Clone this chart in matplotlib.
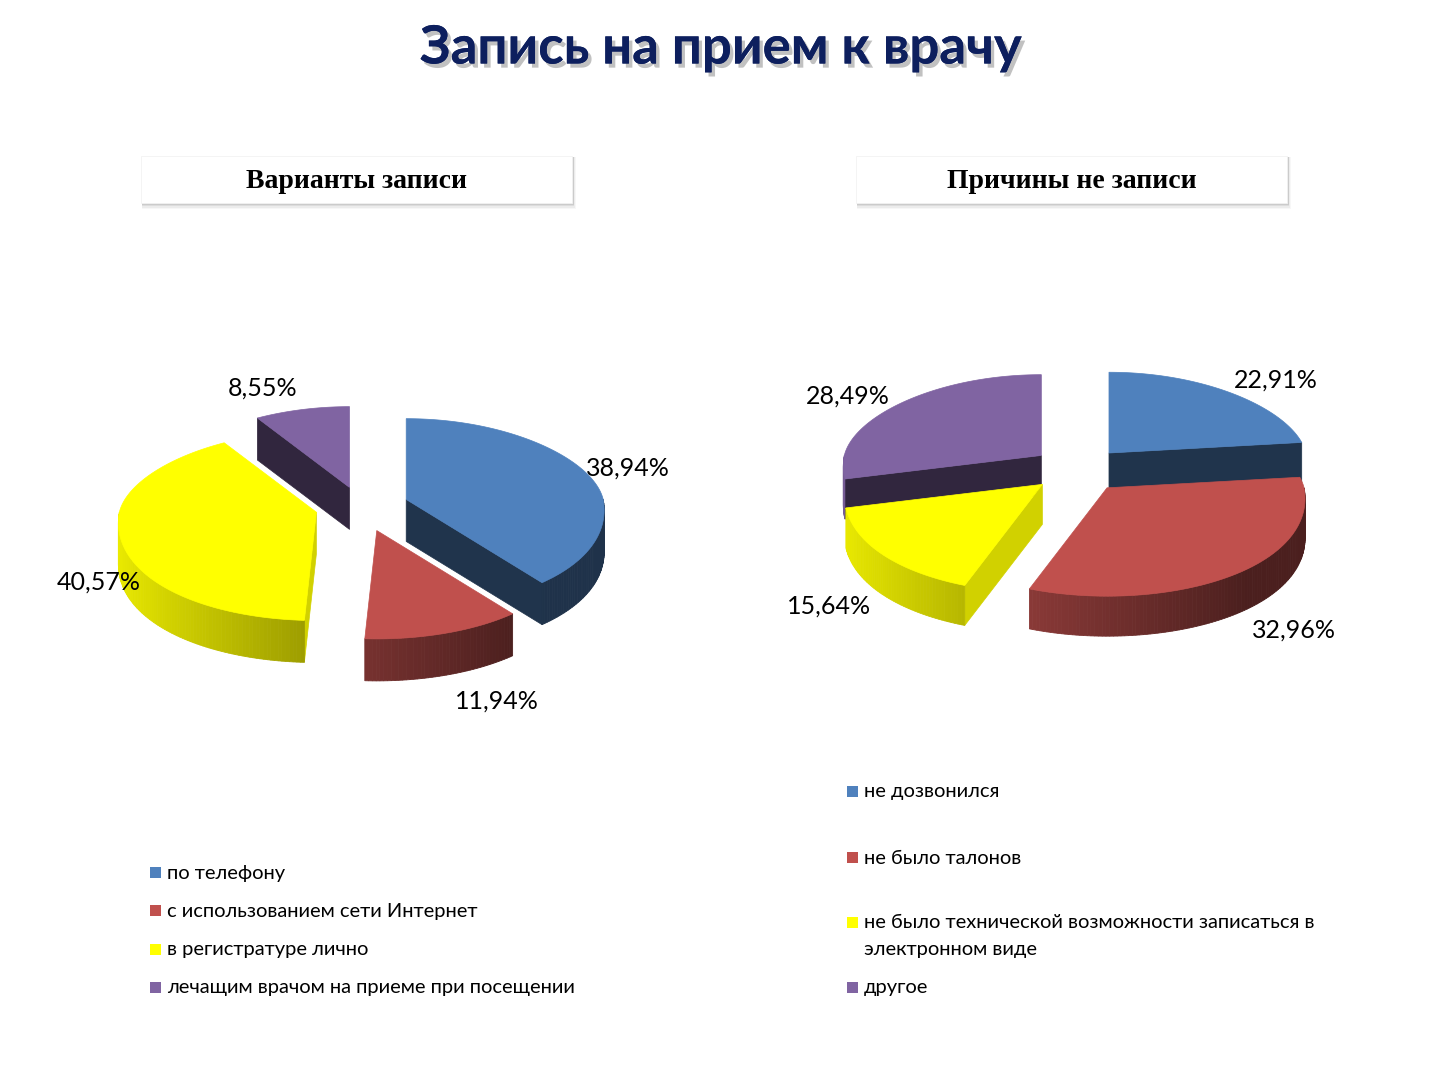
import numpy as np
import matplotlib
matplotlib.use("Agg")
import matplotlib.pyplot as plt
import matplotlib.colors as mcolors
import matplotlib.patheffects as pe
from matplotlib.patches import Polygon, Rectangle

# данные
main_title = "Запись на прием к врачу"

left_title = "Варианты записи"
left_names = ["по телефону", "с использованием сети Интернет",
              "в регистратуре лично", "лечащим врачом на приеме при посещении"]
left_values = [38.94, 11.94, 40.57, 8.55]

right_title = "Причины не записи"
right_names = ["не дозвонился", "не было талонов",
               "не было технической возможности записаться в\nэлектронном виде", "другое"]
right_values = [22.91, 32.96, 15.64, 28.49]

colors = ["#4F81BD", "#C0504D", "#FFFF00", "#8064A2"]
wall_f = [0.40, 0.40, 0.82, 0.38]   # яркость боковых граней

FONT = ["Lato", "Open Sans", "DejaVu Sans"]
plt.rcParams['font.family'] = FONT

# геометрия 3D круга (в пикселях)
R = 197
EXPL = 47
KB, KF = 0.41, 0.55
PX = 0.10   # перспектива по горизонтали


def proj(r, ang, persp=True):
    # угол по часовой стрелке от 12 часов, ось y вниз
    a = np.radians(ang)
    z = np.cos(a)
    x = r * np.sin(a)
    if persp:
        x = x * (1 - PX * z)
    k = np.where(z > 0, KB, KF)
    return x, -r * z * k


def shade(col, f):
    rgb = np.array(mcolors.to_rgb(col))
    return tuple(np.clip(rgb * f, 0, 1))


def outer_f(s):
    return np.clip(0.60 - 0.32 * s, 0.39, 0.95)


def draw_pie(ax, values, cx, cy, H, nudges):
    vals = np.array(values, dtype=float)
    ends = np.cumsum(vals) / vals.sum() * 360
    starts = ends - vals / vals.sum() * 360
    mids = (starts + ends) / 2
    order = np.argsort(-np.cos(np.radians(mids)))  # сначала задние
    for i in order:
        a1, a2 = starts[i], ends[i]
        ex, ey = proj(EXPL, mids[i], persp=False)
        px, py = cx + ex, cy + ey
        th = np.linspace(a1, a2, max(int((a2 - a1) * 2), 2))
        rx, ry = proj(R, th)
        rx = rx + px
        ry = ry + py
        col = colors[i]

        # радиальные стенки
        walls = []
        if np.sin(np.radians(a1)) < 0:
            walls.append(0)
        if np.sin(np.radians(a2)) > 0:
            walls.append(-1)
        for j in walls:
            quad = [(px, py), (rx[j], ry[j]), (rx[j], ry[j] + H), (px, py + H)]
            c = shade(col, wall_f[i])
            ax.add_patch(Polygon(quad, closed=True, fc=c, ec=c, lw=0.5))

        # внешняя стенка с градиентом
        lo, hi = max(a1, 90), min(a2, 270)
        if hi > lo:
            tt = np.linspace(lo, hi, int(hi - lo) + 2)
            wx, wy = proj(R, tt)
            wx = wx + px
            wy = wy + py
            for k in range(len(tt) - 1):
                s = np.sin(np.radians((tt[k] + tt[k + 1]) / 2))
                c = shade(col, outer_f(s))
                quad = [(wx[k], wy[k]), (wx[k + 1], wy[k + 1]),
                        (wx[k + 1], wy[k + 1] + H), (wx[k], wy[k] + H)]
                ax.add_patch(Polygon(quad, closed=True, fc=c, ec=c, lw=0.6))

        # верх
        top = np.column_stack([np.r_[px, rx], np.r_[py, ry]])
        ax.add_patch(Polygon(top, closed=True, fc=col, ec=col, lw=0.5))

    # подписи
    for i in range(len(vals)):
        ex, ey = proj(EXPL, mids[i], persp=False)
        lx, ly = proj(R * 1.15, mids[i])
        x = cx + ex + lx + nudges[i][0]
        y = cy + ey + ly + nudges[i][1]
        txt = ("%.2f%%" % vals[i]).replace(".", ",")
        ax.text(x, y, txt, fontsize=18, ha="center", va="center", color="black")


def title_box(ax, x0, y0, w, h, text):
    for d, a in [(7, 0.06), (5, 0.09), (3, 0.14), (1.5, 0.18)]:
        ax.add_patch(Rectangle((x0 + 1, y0 + 1), w + d * 0.4, h + d * 0.7,
                               fc="#7f7f7f", ec="none", alpha=a))
    ax.add_patch(Rectangle((x0, y0), w, h, fc="white", ec="#f2f2f2", lw=0.6))
    ax.text(x0 + w / 2, y0 + h / 2 + 2, text, fontsize=20, fontweight="bold",
            family="Liberation Serif", ha="center", va="center", color="black")


def legend(ax, x0, ys, names):
    for i, (y, name) in enumerate(zip(ys, names)):
        ax.add_patch(Rectangle((x0, y - 5.5), 11, 11, fc=colors[i], ec="none"))
        for n, line in enumerate(name.split("\n")):
            ax.text(x0 + 17, y + 1 + n * 27, line, fontsize=14.5, ha="left",
                    va="center", color="black")


fig = plt.figure(figsize=(14.4, 10.8), dpi=100)
ax = fig.add_axes([0, 0, 1, 1])
ax.set_xlim(0, 1440)
ax.set_ylim(1080, 0)
ax.axis("off")

ax.text(721, 48, main_title, fontsize=38, fontweight="bold", color="#0d1f5e",
        ha="center", va="center",
        path_effects=[pe.withSimplePatchShadow(offset=(2.5, -3), shadow_rgbFace="#666666", alpha=0.4),
                      pe.Normal()])

title_box(ax, 141, 156, 431, 47, left_title)
title_box(ax, 856, 156, 431, 47, right_title)

draw_pie(ax, left_values, 362, 506, 42, [(16, 0.5), (42, 52), (8, 40), (-33, -10)])
draw_pie(ax, right_values, 1078, 467.5, 40, [(29, -3), (36, 44), (-30, 40), (-28, -1)])

legend(ax, 150, [872, 910, 949, 987], left_names)
legend(ax, 847, [791, 857, 922, 987], right_names)

fig.savefig("out.png", dpi=100, facecolor="white")
